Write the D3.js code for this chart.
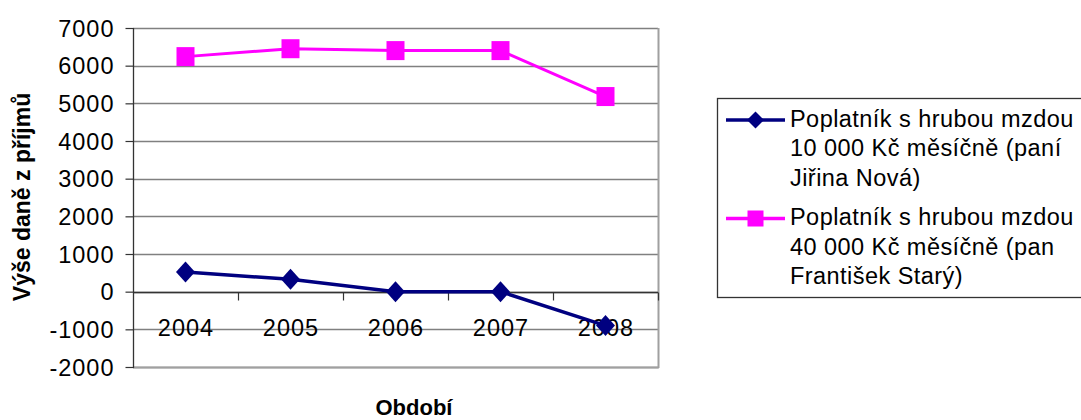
<!DOCTYPE html>
<html>
<head>
<meta charset="utf-8">
<script src="https://cdn.jsdelivr.net/npm/d3@7"></script>
<style>
  html, body { margin: 0; padding: 0; background: #fff; }
  svg { display: block; font-family: "Liberation Sans", Arial, sans-serif; }
</style>
</head>
<body>
<svg id="chart" width="1081" height="420"></svg>
<script>
const years = ["2004", "2005", "2006", "2007", "2008"];
const seriesNames = [
  ["Poplatník s hrubou mzdou", "10 000 Kč měsíčně (paní", "Jiřina Nová)"],
  ["Poplatník s hrubou mzdou", "40 000 Kč měsíčně (pan", "František Starý)"]
];
const valuesNova = [520, 330, 0, 0, -900];
const valuesStary = [6240, 6450, 6400, 6400, 5180];
const yTicks = [-2000, -1000, 0, 1000, 2000, 3000, 4000, 5000, 6000, 7000];
const yTitle = "Výše daně z příjmů";
const xTitle = "Období";

const svg = d3.select("#chart");
const plotL = 133, plotR = 658, plotT = 28, plotB = 367;

const x = d3.scaleBand().domain(years).range([plotL, plotR]).padding(0);
const y = d3.scaleLinear().domain([-2000, 7000]).range([plotB, plotT]);

// gridlines
svg.append("g").selectAll("line").data(yTicks).join("line")
  .attr("x1", plotL).attr("x2", plotR)
  .attr("y1", d => Math.round(y(d)) + 0.5).attr("y2", d => Math.round(y(d)) + 0.5)
  .attr("stroke", "#808080").attr("stroke-width", 1.3);

// plot border right & bottom
svg.append("line").attr("x1", plotR + 0.5).attr("x2", plotR + 0.5).attr("y1", plotT).attr("y2", plotB + 1)
  .attr("stroke", "#a0a0a0").attr("stroke-width", 2);
svg.append("line").attr("x1", plotL).attr("x2", plotR + 1).attr("y1", plotB + 0.5).attr("y2", plotB + 0.5)
  .attr("stroke", "#a0a0a0").attr("stroke-width", 2);

// y axis
const yAxis = d3.axisLeft(y).tickValues(yTicks).tickSize(8).tickPadding(11).tickFormat(d => String(d));
const gy = svg.append("g").attr("transform", `translate(${plotL + 0.5},0)`).call(yAxis);
gy.select(".domain").attr("stroke", "#333").attr("stroke-width", 1.3).attr("d", `M-0,${plotT}V${plotB + 1}`);
gy.selectAll(".tick line").attr("stroke", "#333").attr("stroke-width", 1.2);
gy.selectAll(".tick text").attr("font-size", 23.5).attr("fill", "#000").attr("letter-spacing", 1)
  .attr("font-family", "'Liberation Sans', Arial, sans-serif").attr("dy", "0.35em");

// x axis at zero
const zeroY = Math.round(y(0)) + 0.5;
svg.append("line").attr("x1", plotL).attr("x2", plotR).attr("y1", zeroY).attr("y2", zeroY)
  .attr("stroke", "#333").attr("stroke-width", 1.3);
const boundaries = years.map(d => x(d) + x.bandwidth());
svg.append("g").selectAll("line").data(boundaries).join("line")
  .attr("x1", d => Math.round(d) + 0.5).attr("x2", d => Math.round(d) + 0.5)
  .attr("y1", zeroY).attr("y2", zeroY + 8)
  .attr("stroke", "#333").attr("stroke-width", 1.2);
svg.append("g").selectAll("text").data(years).join("text")
  .attr("x", d => x(d) + x.bandwidth() / 2 + 0.5).attr("y", 336)
  .attr("text-anchor", "middle").attr("font-size", 23.5).attr("letter-spacing", 1).attr("fill", "#000")
  .text(d => d);

// series
const cx = d => x(d) + x.bandwidth() / 2;
const line = d3.line().x(d => cx(d[0])).y(d => y(d[1]));
const dataNova = years.map((yr, i) => [yr, valuesNova[i]]);
const dataStary = years.map((yr, i) => [yr, valuesStary[i]]);

svg.append("path").datum(dataStary).attr("d", line).attr("fill", "none")
  .attr("stroke", "#FF00FF").attr("stroke-width", 3);
svg.append("g").selectAll("rect").data(dataStary).join("rect")
  .attr("x", d => cx(d[0]) - 9).attr("y", d => y(d[1]) - 9.5)
  .attr("width", 18).attr("height", 19).attr("fill", "#FF00FF");

svg.append("path").datum(dataNova).attr("d", line).attr("fill", "none")
  .attr("stroke", "#000080").attr("stroke-width", 3.5);
const diamond = (px, py, w, h) => `M${px},${py - h}L${px + w},${py}L${px},${py + h}L${px - w},${py}Z`;
svg.append("g").selectAll("path").data(dataNova).join("path")
  .attr("d", d => diamond(cx(d[0]), y(d[1]), 9.5, 10.5)).attr("fill", "#000080");

// axis titles
svg.append("text").attr("transform", "translate(30,197) rotate(-90)")
  .attr("text-anchor", "middle").attr("font-size", 23).attr("font-weight", "bold").text(yTitle);
svg.append("text").attr("x", 414).attr("y", 415)
  .attr("text-anchor", "middle").attr("font-size", 22).attr("font-weight", "bold").text(xTitle);

// legend
const lg = svg.append("g");
lg.append("rect").attr("x", 717.5).attr("y", 98.5).attr("width", 380).attr("height", 199)
  .attr("fill", "#fff").attr("stroke", "#333").attr("stroke-width", 1.3);
const legendColors = ["#000080", "#FF00FF"];
const entryY = [126.5, 225];
seriesNames.forEach((lines, i) => {
  const by = entryY[i];
  const my = by - 6.5;
  lg.append("line").attr("x1", 726).attr("x2", 785).attr("y1", my).attr("y2", my)
    .attr("stroke", legendColors[i]).attr("stroke-width", 3.3);
  if (i === 0) {
    lg.append("path").attr("d", diamond(755.5, my, 8.5, 8.5)).attr("fill", legendColors[i]);
  } else {
    lg.append("rect").attr("x", 755.5 - 8).attr("y", my - 8).attr("width", 16).attr("height", 16)
      .attr("fill", legendColors[i]);
  }
  lines.forEach((t, j) => {
    lg.append("text").attr("x", 790).attr("y", by + j * 29.5)
      .attr("font-size", 23.5).attr("letter-spacing", 0.45).attr("fill", "#000").text(t);
  });
});
</script>
</body>
</html>
